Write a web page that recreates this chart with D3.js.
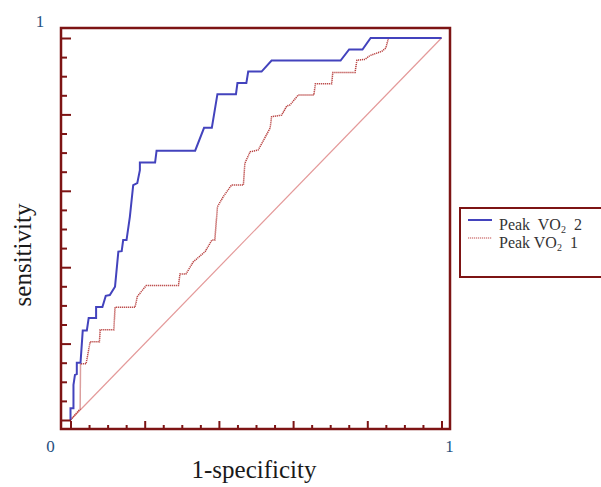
<!DOCTYPE html>
<html>
<head>
<meta charset="utf-8">
<script src="https://cdn.jsdelivr.net/npm/d3@7"></script>
<style>
  body { margin: 0; background: #fff; }
  svg { display: block; }
</style>
</head>
<body>
<svg width="601" height="487"></svg>
<script>
// ROC points (1-specificity, sensitivity)
const fprVO2_2 = [0, 0, 0.008, 0.008, 0.012, 0.017, 0.017, 0.027, 0.033, 0.044, 0.049, 0.069, 0.069, 0.086, 0.095, 0.106, 0.120, 0.129, 0.138, 0.142, 0.151, 0.160, 0.169, 0.180, 0.187, 0.187, 0.228, 0.232, 0.336, 0.360, 0.381, 0.396, 0.446, 0.450, 0.474, 0.479, 0.515, 0.542, 0.728, 0.751, 0.787, 0.809, 1]
const tprVO2_2 = [0, 0.031, 0.031, 0.092, 0.118, 0.120, 0.150, 0.150, 0.234, 0.234, 0.267, 0.267, 0.296, 0.296, 0.325, 0.327, 0.349, 0.441, 0.442, 0.471, 0.471, 0.532, 0.615, 0.620, 0.654, 0.674, 0.674, 0.705, 0.705, 0.765, 0.765, 0.853, 0.853, 0.882, 0.882, 0.912, 0.912, 0.941, 0.941, 0.970, 0.970, 1, 1]

const fprVO2_1 = [0, 0.026, 0.027, 0.042, 0.053, 0.078, 0.080, 0.117, 0.120, 0.174, 0.180, 0.204, 0.291, 0.295, 0.311, 0.331, 0.363, 0.381, 0.389, 0.396, 0.412, 0.434, 0.466, 0.470, 0.484, 0.506, 0.538, 0.542, 0.569, 0.583, 0.592, 0.614, 0.656, 0.660, 0.704, 0.707, 0.767, 0.772, 0.794, 0.807, 0.839, 0.850, 0.857, 1]
const tprVO2_1 = [0, 0.029, 0.147, 0.147, 0.205, 0.205, 0.236, 0.236, 0.295, 0.295, 0.323, 0.352, 0.352, 0.382, 0.382, 0.414, 0.441, 0.471, 0.471, 0.558, 0.585, 0.615, 0.615, 0.672, 0.702, 0.707, 0.764, 0.794, 0.798, 0.822, 0.825, 0.851, 0.851, 0.880, 0.880, 0.910, 0.910, 0.942, 0.944, 0.954, 0.965, 0.974, 1, 1]

const majorTicks = [0, 0.2, 0.4, 0.6, 0.8, 1]
const minorTicks = d3.range(0, 1.0001, 0.05).filter(v => Math.abs(v * 5 - Math.round(v * 5)) > 1e-6)
const endLabels = [{text: '0', axis: 'x', v: 0}, {text: '1', axis: 'x', v: 1}, {text: '1', axis: 'y', v: 1}]

const svg = d3.select('svg')
const frameColor = '#7d1414'
const labelBlue = '#27507f'

const frame = {left: 61, top: 28, right: 450, bottom: 429}

const x = d3.scaleLinear().domain([0, 1]).range([70.5, 441.5])
const y = d3.scaleLinear().domain([0, 1]).range([420, 38])

// diagonal reference line
svg.append('line')
  .attr('x1', x(0)).attr('y1', y(0))
  .attr('x2', x(1)).attr('y2', y(1))
  .attr('stroke', '#e49a9a')
  .attr('stroke-width', 1.2)

const line = d3.line().x(d => x(d[0])).y(d => y(d[1]))

svg.append('path')
  .datum(d3.zip(fprVO2_1, tprVO2_1))
  .attr('d', line)
  .attr('fill', 'none')
  .attr('stroke', '#b8403f')
  .attr('stroke-width', 1.5)
  .attr('stroke-dasharray', '1.2,0.8')

svg.append('path')
  .datum(d3.zip(fprVO2_2, tprVO2_2))
  .attr('d', line)
  .attr('fill', 'none')
  .attr('stroke', '#4343bd')
  .attr('stroke-width', 2)

// ticks point inward from the frame
const tickAxis = (g, axis, values, size) => {
  g.call(axis.tickValues(values).tickSize(size).tickFormat(''))
  g.select('.domain').remove()
  g.selectAll('.tick line').attr('stroke', frameColor).attr('stroke-width', 2)
}

svg.append('g').attr('transform', `translate(${frame.left},0)`)
  .call(g => tickAxis(g, d3.axisRight(y), majorTicks, 10))
svg.append('g').attr('transform', `translate(${frame.left},0)`)
  .call(g => tickAxis(g, d3.axisRight(y), minorTicks, 6))
svg.append('g').attr('transform', `translate(0,${frame.bottom})`)
  .call(g => tickAxis(g, d3.axisTop(x), majorTicks, 8))
svg.append('g').attr('transform', `translate(0,${frame.bottom})`)
  .call(g => tickAxis(g, d3.axisTop(x), minorTicks, 4))

svg.append('rect')
  .attr('x', frame.left).attr('y', frame.top)
  .attr('width', frame.right - frame.left)
  .attr('height', frame.bottom - frame.top)
  .attr('fill', 'none')
  .attr('stroke', frameColor)
  .attr('stroke-width', 2.5)

// end labels
svg.selectAll('.end-label')
  .data(endLabels)
  .join('text')
  .attr('class', 'end-label')
  .attr('x', d => d.axis === 'x' ? x(d.v) + (d.v === 0 ? -20 : 8) : 40)
  .attr('y', d => d.axis === 'x' ? 452 : 27)
  .attr('text-anchor', 'middle')
  .attr('font-family', 'Liberation Serif, serif')
  .attr('font-size', 17)
  .attr('fill', labelBlue)
  .text(d => d.text)

svg.append('text')
  .attr('x', 254).attr('y', 478)
  .attr('text-anchor', 'middle')
  .attr('font-family', 'Liberation Serif, serif')
  .attr('font-size', 25)
  .attr('fill', '#1a1a1a')
  .text('1-specificity')

svg.append('text')
  .attr('transform', 'translate(31,255) rotate(-90)')
  .attr('text-anchor', 'middle')
  .attr('font-family', 'Liberation Serif, serif')
  .attr('font-size', 25)
  .attr('fill', '#1a1a1a')
  .text('sensitivity')

// legend
const legend = svg.append('g')
legend.append('rect')
  .attr('x', 460).attr('y', 208)
  .attr('width', 160).attr('height', 69)
  .attr('fill', '#fff')
  .attr('stroke', frameColor)
  .attr('stroke-width', 2)

const legendItems = [
  {name: '2', color: '#4343bd', dash: null, width: 2},
  {name: '1', color: '#c04a4a', dash: '1.2,0.8', width: 1.2}
]
legendItems.forEach((d, i) => {
  const ly = 220 + i * 18
  legend.append('line')
    .attr('x1', 468).attr('x2', 492)
    .attr('y1', ly).attr('y2', ly)
    .attr('stroke', d.color)
    .attr('stroke-width', d.width)
    .attr('stroke-dasharray', d.dash)
  const t = legend.append('text')
    .attr('x', 499).attr('y', ly + 10)
    .attr('font-family', 'Liberation Serif, serif')
    .attr('font-size', 16)
    .attr('fill', '#333')
    .style('white-space', 'pre')
  t.append('tspan').text(i === 0 ? 'Peak  VO' : 'Peak VO')
  t.append('tspan').attr('font-size', 10).attr('dy', 3).text('2')
  t.append('tspan').attr('dy', -3).text('  ' + d.name)
})
</script>
</body>
</html>
